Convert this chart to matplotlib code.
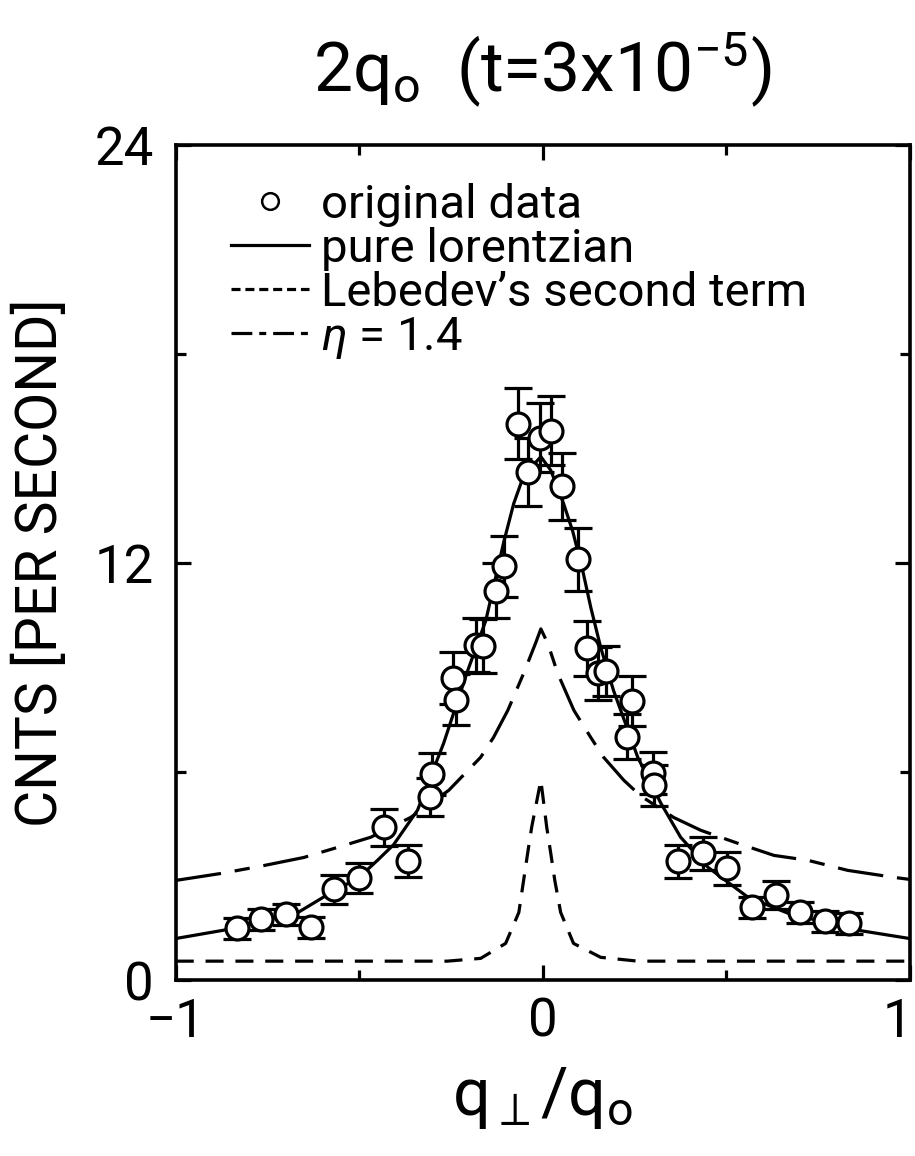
import matplotlib
matplotlib.use("Agg")
import matplotlib.pyplot as plt
from matplotlib.lines import Line2D
from matplotlib.transforms import ScaledTranslation

# measured counts vs q_perp/q_o
q_data = [-0.834, -0.768, -0.700, -0.632, -0.569, -0.501, -0.433, -0.368,
          -0.308, -0.302, -0.245, -0.237, -0.183, -0.163, -0.128, -0.106,
          -0.068, -0.041, -0.008, 0.022, 0.052, 0.095, 0.120, 0.150,
          0.172, 0.231, 0.242, 0.300, 0.303, 0.368, 0.436, 0.501,
          0.569, 0.635, 0.700, 0.768, 0.834]
cnts = [1.49, 1.75, 1.90, 1.52, 2.61, 2.93, 4.40, 3.42,
        5.26, 5.94, 8.68, 8.07, 9.63, 9.60, 11.2, 11.9,
        16.0, 14.6, 15.6, 15.8, 14.2, 12.1, 9.54, 8.82,
        8.90, 7.00, 8.02, 5.95, 5.60, 3.42, 3.65, 3.22,
        2.10, 2.44, 1.95, 1.70, 1.64]
cnts_err = [0.30, 0.30, 0.30, 0.30, 0.42, 0.43, 0.53, 0.46,
            0.55, 0.60, 0.75, 0.73, 0.78, 0.78, 0.80, 0.87,
            1.03, 0.98, 1.00, 1.00, 0.97, 0.90, 0.80, 0.75,
            0.72, 0.65, 0.72, 0.60, 0.60, 0.47, 0.47, 0.47,
            0.30, 0.40, 0.30, 0.30, 0.30]

# pure lorentzian fit
q_lor = [-1.0, -0.869, -0.665, -0.580, -0.501, -0.450, -0.406, -0.341,
         -0.270, -0.204, -0.155, -0.106, -0.079, -0.052, -0.005, 0.022,
         0.057, 0.082, 0.109, 0.131, 0.158, 0.193, 0.259, 0.322,
         0.376, 0.450, 0.559, 0.668, 0.858, 1.0]
y_lor = [1.20, 1.44, 1.96, 2.50, 2.95, 3.45, 3.90, 4.89,
         6.81, 8.91, 10.34, 12.6, 13.7, 14.5, 15.05, 14.66,
         13.7, 12.9, 11.78, 10.72, 9.57, 8.33, 6.41, 5.09,
         4.11, 3.25, 2.39, 1.93, 1.44, 1.20]

# Lebedev's second term
q_leb = [-1.0, -0.60, -0.26, -0.169, -0.101, -0.065, -0.052, -0.041,
         -0.030, -0.005, 0.011, 0.022, 0.033, 0.049, 0.084, 0.158,
         0.259, 0.60, 1.0]
y_leb = [0.55, 0.55, 0.55, 0.63, 1.06, 1.95, 2.87, 3.65,
         4.40, 5.75, 4.40, 3.65, 2.87, 1.95, 1.06, 0.66,
         0.55, 0.55, 0.55]

# eta = 1.4 curve
q_eta = [-1.0, -0.877, -0.768, -0.651, -0.559, -0.469, -0.360, -0.256,
         -0.169, -0.134, -0.095, -0.052, -0.019, -0.005, 0.014, 0.041,
         0.085, 0.131, 0.166, 0.221, 0.267, 0.357, 0.431, 0.531,
         0.630, 0.722, 0.831, 0.956, 1.0]
y_eta = [2.87, 3.07, 3.28, 3.53, 3.82, 4.11, 4.68, 5.46,
         6.41, 6.98, 7.76, 8.82, 9.70, 10.1, 9.68, 8.82,
         7.76, 6.98, 6.41, 5.75, 5.30, 4.68, 4.31, 3.94,
         3.59, 3.45, 3.16, 2.96, 2.90]

plt.rcParams.update({
    "font.family": ["Roboto", "DejaVu Sans"],
    "mathtext.fontset": "custom",
    "mathtext.rm": "Roboto",
    "mathtext.it": "Roboto:italic",
    "mathtext.sf": "Roboto",
    "lines.scale_dashes": False,
})

LW = 2.3
fig = plt.figure(figsize=(9.15, 11.56), dpi=100)
ax = fig.add_axes([0.192, 0.152, 0.8022, 0.7223])

ax.plot(q_lor, y_lor, color="black", lw=LW, zorder=2)
ax.plot(q_leb, y_leb, color="black", lw=LW, dashes=(13, 8.5), zorder=2)
ax.plot(q_eta, y_eta, color="black", lw=LW, dashes=(33, 10, 11, 10), zorder=2)

ax.errorbar(q_data, cnts, yerr=cnts_err, fmt="none", ecolor="black",
            elinewidth=LW, capsize=10, capthick=LW, zorder=3)
ax.plot(q_data, cnts, "o", ms=16.5, mfc="white", mec="black", mew=LW,
        ls="none", zorder=4)

ax.set_xlim(-1, 1)
ax.set_ylim(0, 24)
ax.set_xticks([-1, 0, 1])
ax.set_xticks([-0.5, 0.5], minor=True)
ax.set_yticks([0, 12, 24])
ax.set_yticks([6, 18], minor=True)
ax.set_xticklabels(["\u22121", "0", "1"])
ax.tick_params(which="both", direction="in", top=True, right=True,
               width=LW, labelsize=38)
ax.tick_params(which="major", length=11)
ax.tick_params(axis="x", which="major", pad=12)
ax.tick_params(axis="y", which="major", pad=16)
ax.tick_params(which="minor", length=7)
for s in ax.spines.values():
    s.set_linewidth(2.6)

# keep the right-hand "1" inside the canvas
last = ax.get_xticklabels()[-1]
last.set_transform(last.get_transform() + ScaledTranslation(-9 / 72, 0, fig.dpi_scale_trans))

ax.set_xlabel(r"q$_{\perp}$/q$_{\rm o}$", fontsize=48, labelpad=12)
ax.set_ylabel("CNTS [PER SECOND]", fontsize=41, labelpad=18)
ax.set_title(r"2q$_{\rm o}$  (t=3x10$^{-5}$)", fontsize=50, pad=38)

handles = [
    Line2D([], [], ls="none", marker="o", ms=12, mfc="white", mec="black", mew=1.8),
    Line2D([], [], color="black", lw=LW),
    Line2D([], [], color="black", lw=LW, dashes=(6.5, 3.5)),
    Line2D([], [], color="black", lw=LW, dashes=(15, 5, 5, 5)),
]
labels = ["original data", "pure lorentzian", "Lebedev\u2019s second term",
          r"$\eta$ = 1.4"]
ax.legend(handles, labels, loc="upper left", bbox_to_anchor=(0.05, 0.978),
          frameon=False, fontsize=34, handlelength=1.65, handletextpad=0.25,
          labelspacing=0.0, borderaxespad=0.0)

fig.savefig("out.png", dpi=100)
